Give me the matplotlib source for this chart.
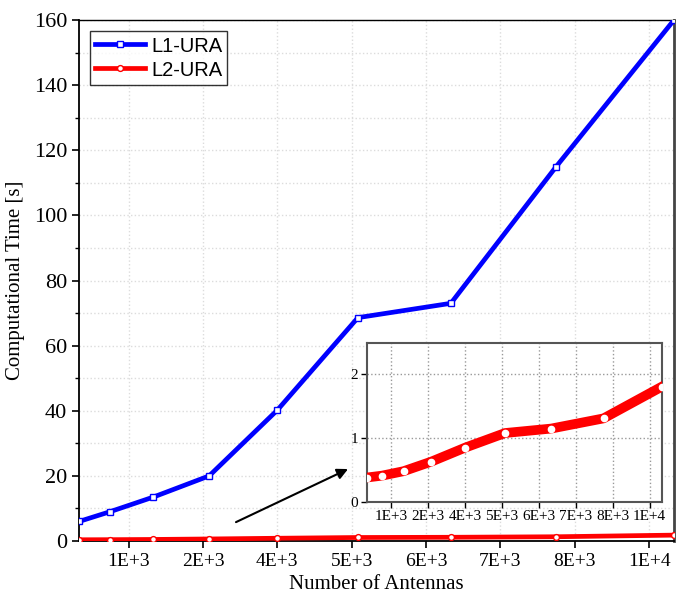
import matplotlib
matplotlib.use("Agg")
import matplotlib.pyplot as plt
from matplotlib.ticker import MultipleLocator

# Number of antennas for each URA size (16x16 ... 80x80)
antennas = [256, 576, 1024, 1600, 2304, 3136, 4096, 5184, 6400]
l1_time = [6.0, 9.0, 13.5, 20.0, 40.2, 68.6, 73.0, 115.0, 160.0]
l2_time = [0.38, 0.41, 0.48, 0.63, 0.85, 1.08, 1.15, 1.31, 1.81]

tick_pos = [768, 1536, 2304, 3072, 3840, 4608, 5376, 6144]
tick_labels = ["1E+3", "2E+3", "4E+3", "5E+3", "6E+3", "7E+3", "8E+3", "1E+4"]

serif = "Liberation Serif"
sans = "Liberation Sans"

fig = plt.figure(figsize=(6.9, 5.99), dpi=100)
ax = fig.add_axes([0.1145, 0.0968, 0.8623, 0.8698])

ax.plot(antennas, l1_time, color="#0000ff", lw=3.4, marker="s", ms=4.2,
        mfc="white", mec="#0000ff", mew=1.0, label="L1-URA", zorder=3)
ax.plot(antennas, l2_time, color="#ff0000", lw=3.4, marker="o", ms=4.2,
        mfc="white", mec="#ff0000", mew=1.0, label="L2-URA", zorder=3)

ax.set_xlim(antennas[0], antennas[-1])
ax.set_ylim(0, 160)
ax.set_xticks(tick_pos)
ax.set_xticklabels(tick_labels, fontfamily=serif, fontsize=14)
ax.yaxis.set_major_locator(MultipleLocator(20))
ax.yaxis.set_minor_locator(MultipleLocator(10))
for lab in ax.get_yticklabels():
    lab.set_fontfamily(serif)
    lab.set_fontsize(16)
ax.tick_params(axis="both", which="major", direction="out", length=5, width=1.2)
ax.tick_params(axis="y", which="minor", direction="out", length=3, width=1.0)
ax.tick_params(axis="x", which="minor", bottom=False)

ax.grid(True, which="major", color="#dcdcdc", ls=":", lw=1.0)
ax.grid(True, which="minor", axis="y", color="#dcdcdc", ls=":", lw=1.0)
ax.set_axisbelow(True)

ax.spines["left"].set_linewidth(1.3)
ax.spines["bottom"].set_linewidth(1.3)
ax.spines["top"].set_linewidth(1.0)
ax.spines["right"].set_linewidth(2.0)
ax.spines["right"].set_color("#444444")

ax.set_xlabel("Number of Antennas", fontfamily=serif, fontsize=15, labelpad=4)
ax.set_ylabel("Computational Time [s]", fontfamily=serif, fontsize=15, labelpad=6)

leg = ax.legend(loc="upper left", bbox_to_anchor=(0.018, 0.978),
                prop={"family": sans, "size": 14.5}, frameon=True,
                fancybox=False, edgecolor="black", handlelength=2.5,
                handletextpad=0.3, borderpad=0.25, labelspacing=0.25,
                borderaxespad=0)
leg.get_frame().set_linewidth(1.0)

# Zoomed-in view of the L2 curve
ins = fig.add_axes([0.5314, 0.1624, 0.428, 0.2655])
ins.plot(antennas, l2_time, color="#ff0000", lw=7.0, marker="o", ms=4.5,
         mfc="white", mec="white", zorder=3)
ins.set_xlim(antennas[0], antennas[-1])
ins.set_ylim(0, 2.5)
ins.set_xticks(tick_pos)
ins.set_xticklabels(tick_labels, fontfamily=serif, fontsize=11)
ins.set_yticks([0, 1, 2])
ins.set_yticklabels(["0", "1", "2"], fontfamily=serif, fontsize=11)
ins.tick_params(axis="both", direction="out", length=4, width=1.0, pad=2)
ins.grid(True, color="#999999", ls=":", lw=1.0)
ins.set_axisbelow(True)
for sp in ins.spines.values():
    sp.set_color("#555555")
    sp.set_linewidth(1.5)

# Arrow pointing from the L2 curve to the inset
ax.annotate("", xy=(3034, 22.1), xytext=(1877, 5.8),
            arrowprops=dict(arrowstyle="-|>", color="black", lw=1.5,
                            mutation_scale=16, shrinkA=0, shrinkB=0))

fig.savefig("out.png", dpi=100)
